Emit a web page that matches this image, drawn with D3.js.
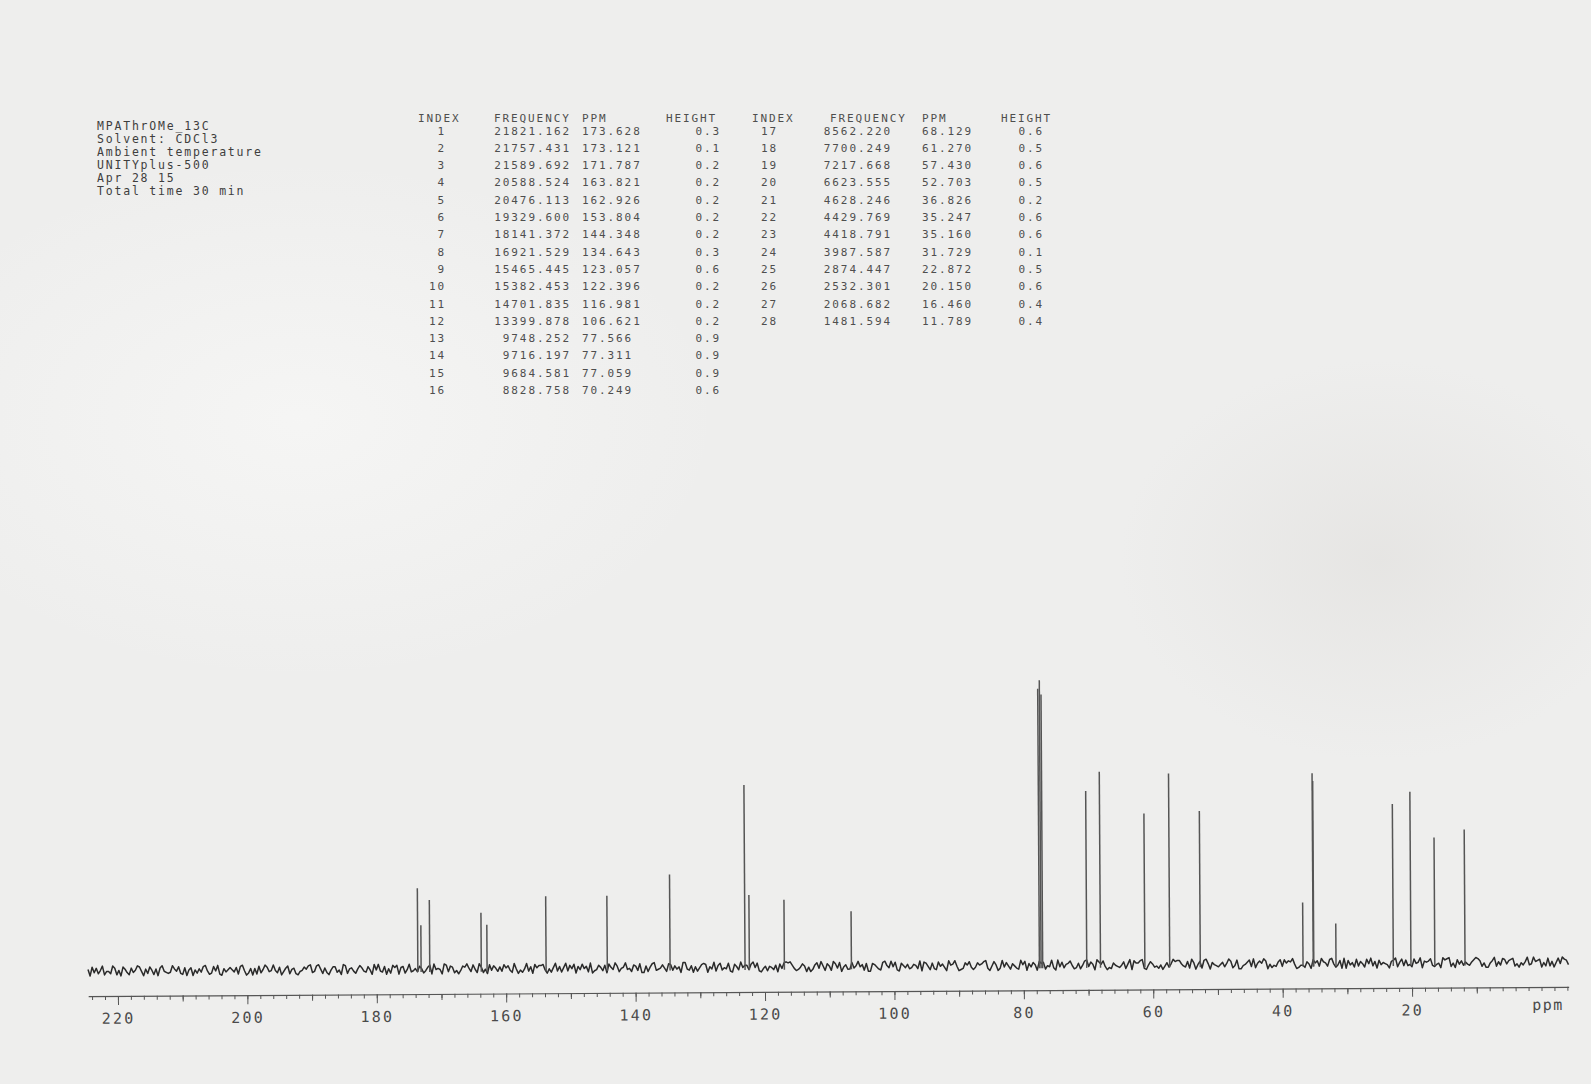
<!DOCTYPE html>
<html>
<head>
<meta charset="utf-8">
<script src="https://cdn.jsdelivr.net/npm/d3@7"></script>
<style>
  html, body { margin: 0; padding: 0; background: #efefee; }
  svg { display: block; }
  text { font-family: "DejaVu Sans Mono", "Liberation Mono", monospace; }
</style>
</head>
<body>
<svg id="chart" width="1591" height="1084"></svg>
<script>
// ---------------- data ----------------
const headerLines = ["MPAThrOMe_13C", "Solvent: CDCl3", "Ambient temperature", "UNITYplus-500", "Apr 28 15", "Total time 30 min"];
const tableColumns = ["INDEX", "FREQUENCY", "PPM", "HEIGHT"];
const frequencies = ["21821.162","21757.431","21589.692","20588.524","20476.113","19329.600","18141.372","16921.529",
  "15465.445","15382.453","14701.835","13399.878","9748.252","9716.197","9684.581","8828.758",
  "8562.220","7700.249","7217.668","6623.555","4628.246","4429.769","4418.791","3987.587",
  "2874.447","2532.301","2068.682","1481.594"];
const ppmValues = [173.628,173.121,171.787,163.821,162.926,153.804,144.348,134.643,
  123.057,122.396,116.981,106.621,77.566,77.311,77.059,70.249,
  68.129,61.270,57.430,52.703,36.826,35.247,35.160,31.729,
  22.872,20.150,16.460,11.789];
const ppmLabels = ["173.628","173.121","171.787","163.821","162.926","153.804","144.348","134.643",
  "123.057","122.396","116.981","106.621","77.566","77.311","77.059","70.249",
  "68.129","61.270","57.430","52.703","36.826","35.247","35.160","31.729",
  "22.872","20.150","16.460","11.789"];
const heightLabels = ["0.3","0.1","0.2","0.2","0.2","0.2","0.2","0.3","0.6","0.2","0.2","0.2","0.9","0.9","0.9","0.6",
  "0.6","0.5","0.6","0.5","0.2","0.6","0.6","0.1","0.5","0.6","0.4","0.4"];
// peak intensities as drawn on the plot (relative, solvent peak = 100)
const peakIntensity = [28.4,15.4,24.2,19.6,15.4,25.3,25.3,32.6,
  63.9,25.3,23.5,19.3,97,100,95,61,
  67.7,53,67,53.7,21.4,66.7,64,14,
  55.8,60,43.9,46.7];
const majorTicks = [220,200,180,160,140,120,100,80,60,40,20];
const axisUnit = "ppm";
// baseline noise of the recorded trace (digit 0..9 per sample, left to right)
const baselineNoise = (
  "391627408557028491368264015937148392056760351782942947361058" +
  "715089364246281059739381740265057296318438965241076104837952" +
  "275901843684136725905067294813193285076472486319054590172386" +
  "962304715803859162473714268059685073914221695840738407251936" +
  "153809762472914603854065823719938410765258127364900673948521" +
  "294608317561892470533720518964845739261010368752495973160482" +
  "480261953771640538299235781046051892463763470912582781536904" +
  "305987241686243107951497062583578041936249132856079062743158" +
  "738510624902416978356752840913310895247685963740211467280395" +
  "281049356753740286199653170842402958673171423059866835914270" +
  "347105862909264817358150739264569320841727681540934317865902" +
  "108592637467420138599530847126321869574076043295818495160237"
).split("").map(Number);

// ---------------- layout ----------------
const svg = d3.select("#chart");
const W = 1591, H = 1084;

// paper background with faint scan shading
const defs = svg.append("defs");
const g1 = defs.append("radialGradient").attr("id", "blot1");
g1.append("stop").attr("offset", "0%").attr("stop-color", "#e4e3e1").attr("stop-opacity", 0.8);
g1.append("stop").attr("offset", "100%").attr("stop-color", "#e4e3e1").attr("stop-opacity", 0);
const g2 = defs.append("radialGradient").attr("id", "blot2");
g2.append("stop").attr("offset", "0%").attr("stop-color", "#f6f6f5").attr("stop-opacity", 0.9);
g2.append("stop").attr("offset", "100%").attr("stop-color", "#f6f6f5").attr("stop-opacity", 0);
svg.append("rect").attr("width", W).attr("height", H).attr("fill", "#eeeeed");
svg.append("ellipse").attr("cx", 1380).attr("cy", 560).attr("rx", 260).attr("ry", 200).attr("fill", "url(#blot1)");
svg.append("ellipse").attr("cx", 300).attr("cy", 420).attr("rx", 420).attr("ry", 260).attr("fill", "url(#blot2)");

// ---------------- header block ----------------
svg.append("g").selectAll("text").data(headerLines).join("text")
  .attr("x", 97).attr("y", (d, i) => 126 + i * 12.9)
  .attr("dominant-baseline", "central")
  .attr("font-size", 11.5).attr("letter-spacing", 1.8).attr("fill", "#3e3e3e")
  .text(d => d);

// ---------------- peak table ----------------
const rowY = i => 131 + i * 17.3;
const tableSpecs = [
  { start: 0, end: 16, hx: [418, 494, 582, 666], ix: 446, fx: 571, px: 582, htx: 721 },
  { start: 16, end: 28, hx: [752, 830, 922, 1001], ix: 778, fx: 892, px: 922, htx: 1044 }
];
const tg = svg.append("g").attr("font-size", 11).attr("letter-spacing", 1.9).attr("fill", "#4e4e4e");
tableSpecs.forEach(spec => {
  tableColumns.forEach((c, j) => {
    tg.append("text").attr("x", spec.hx[j]).attr("y", 118).attr("dominant-baseline", "central").text(c);
  });
  const rows = d3.range(spec.start, spec.end);
  tg.append("g").selectAll("text").data(rows).join("text")
    .attr("x", spec.ix).attr("y", (d, i) => rowY(i)).attr("text-anchor", "end").attr("dominant-baseline", "central")
    .text(d => String(d + 1));
  tg.append("g").selectAll("text").data(rows).join("text")
    .attr("x", spec.fx).attr("y", (d, i) => rowY(i)).attr("text-anchor", "end").attr("dominant-baseline", "central")
    .text(d => frequencies[d]);
  tg.append("g").selectAll("text").data(rows).join("text")
    .attr("x", spec.px).attr("y", (d, i) => rowY(i)).attr("dominant-baseline", "central")
    .text(d => ppmLabels[d]);
  tg.append("g").selectAll("text").data(rows).join("text")
    .attr("x", spec.htx).attr("y", (d, i) => rowY(i)).attr("text-anchor", "end").attr("dominant-baseline", "central")
    .text(d => heightLabels[d]);
});

// ---------------- spectrum ----------------
const x = d3.scaleLinear().domain([224.6, -4.2]).range([88, 1568.5]);
const baseY = 966.5;
const y = d3.scaleLinear().domain([0, 100]).range([baseY, baseY - 285]);

const plot = svg.append("g").attr("transform", "rotate(-0.36, 828, 966)");

// noisy baseline
const noiseIdx = d3.scaleLinear().domain([0, baselineNoise.length - 1]).range([224.6, -4.2]);
const line = d3.line()
  .x((d, i) => x(noiseIdx(i)))
  .y(d => baseY + (d - 4.5) * 1.1);
plot.append("path").datum(baselineNoise).attr("d", line)
  .attr("fill", "none").attr("stroke", "#2a2a2a").attr("stroke-width", 1.5).attr("stroke-linejoin", "round");

// peaks
const peaks = ppmValues.map((p, i) => ({ ppm: p, h: peakIntensity[i] }));
plot.append("g").selectAll("line").data(peaks).join("line")
  .attr("x1", d => x(d.ppm)).attr("x2", d => x(d.ppm))
  .attr("y1", baseY + 3).attr("y2", d => y(d.h))
  .attr("stroke", "#555").attr("stroke-width", 1.5);

// axis
const axisY = 991.5;
const minorAxis = d3.axisBottom(x).tickValues(d3.range(224, -5, -2)).tickSize(4).tickSizeOuter(0).tickFormat("");
const midAxis = d3.axisBottom(x).tickValues(d3.range(210, 0, -20)).tickSize(6).tickSizeOuter(0).tickFormat("");
const majorAxis = d3.axisBottom(x).tickValues(majorTicks).tickSize(9).tickSizeOuter(0).tickPadding(8).tickFormat(d3.format("d"));

const ga = plot.append("g").attr("transform", `translate(0,${axisY})`);
ga.append("g").call(minorAxis);
ga.append("g").call(midAxis).call(s => s.select(".domain").remove());
ga.append("g").call(majorAxis).call(s => s.select(".domain").remove());
ga.selectAll("line").attr("stroke", "#555").attr("stroke-width", 1);
ga.selectAll(".domain").attr("stroke", "#555").attr("stroke-width", 1.2);
ga.selectAll("text")
  .attr("font-family", "'DejaVu Sans Mono', monospace")
  .attr("font-size", 15).attr("letter-spacing", 2.2).attr("fill", "#4a4a4a");
ga.append("text")
  .attr("x", x(-1)).attr("y", 23).attr("text-anchor", "middle")
  .attr("font-family", "'DejaVu Sans Mono', monospace")
  .attr("font-size", 15).attr("letter-spacing", 1.5).attr("fill", "#4a4a4a")
  .text(axisUnit);
</script>
</body>
</html>
